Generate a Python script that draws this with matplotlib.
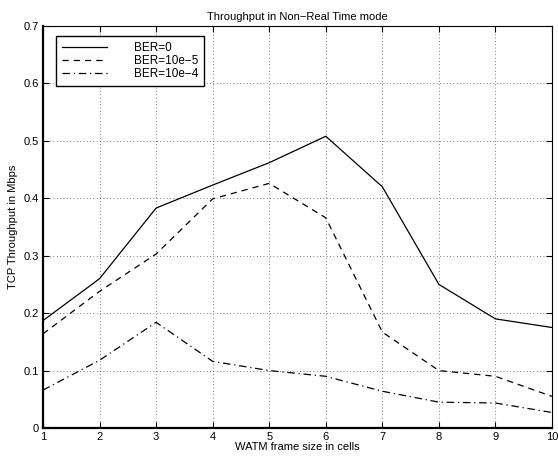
import numpy as np
import matplotlib
matplotlib.use("Agg")
from matplotlib import pyplot as plt

plt.rcParams['font.family'] = ['Liberation Sans', 'DejaVu Sans']
plt.rcParams['font.size'] = 8

frame_size = [1, 2, 3, 4, 5, 6, 7, 8, 9, 10]
ber_0 = [0.187, 0.26, 0.383, 0.423, 0.462, 0.508, 0.42, 0.25, 0.19, 0.175]
ber_1e5 = [0.164, 0.238, 0.303, 0.399, 0.426, 0.366, 0.167, 0.1, 0.09, 0.055]
ber_1e4 = [0.066, 0.118, 0.184, 0.116, 0.1, 0.09, 0.064, 0.045, 0.0435, 0.027]
labels = ['BER=0', 'BER=10e\u22125', 'BER=10e\u22124']

fig = plt.figure(figsize=(5.58, 4.58), dpi=100)
ax = fig.add_axes([43/558, 30/458, 509/558, 402/458])

ax.plot(frame_size, ber_0, '-', color='black', lw=0.9, label=labels[0])
ax.plot(frame_size, ber_1e5, '--', color='black', lw=0.9, dashes=(5, 4), label=labels[1])
ax.plot(frame_size, ber_1e4, '-.', color='black', lw=0.9, dashes=(6, 3, 1, 3), label=labels[2])

ax.set_xlim(1, 10)
ax.set_ylim(0, 0.7)
ax.set_xticks(frame_size)
ax.set_yticks(np.arange(0, 0.71, 0.1))
ax.set_yticklabels(['0', '0.1', '0.2', '0.3', '0.4', '0.5', '0.6', '0.7'])
ax.tick_params(direction='in', top=True, right=True, length=4, width=0.8, pad=3)
ax.grid(True, linestyle=(0, (1, 3)), color='black', linewidth=0.6, alpha=0.7)

for side in ['left', 'bottom']:
    ax.spines[side].set_linewidth(1.6)
for side in ['top', 'right']:
    ax.spines[side].set_linewidth(0.8)

ax.set_title('Throughput in Non\u2212Real Time mode', fontsize=8, pad=4)
ax.set_xlabel('WATM frame size in cells', labelpad=0)
ax.set_ylabel('TCP Throughput in Mbps', labelpad=4)

leg = ax.legend(loc='upper left', bbox_to_anchor=(0.0255, 0.975), borderaxespad=0,
                fancybox=False, edgecolor='black', framealpha=1, handlelength=3.8,
                handletextpad=2.3, borderpad=0.5, labelspacing=0.1, fontsize=8.5)
leg.get_frame().set_linewidth(1.0)

fig.savefig('out.png', dpi=100)
